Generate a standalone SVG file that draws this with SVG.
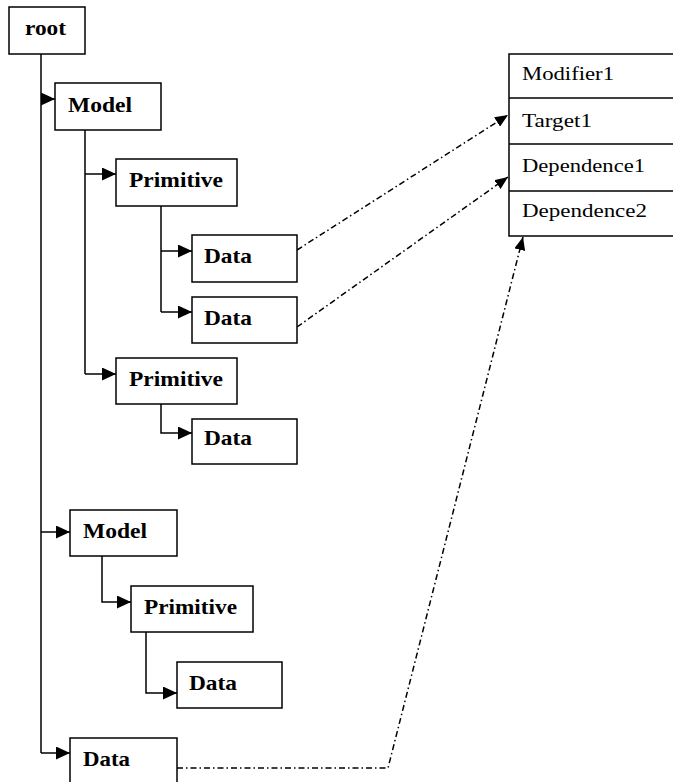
<svg xmlns="http://www.w3.org/2000/svg" width="673" height="782" viewBox="0 0 673 782">
<style>
.box{fill:#fff;stroke:#000;stroke-width:1.5}
.lbl{font-family:"Liberation Serif","Times New Roman",serif;font-weight:bold;font-size:21px;fill:#000}
.cell{font-family:"Liberation Serif","Times New Roman",serif;font-size:19px;fill:#000}
.tree{fill:none;stroke:#000;stroke-width:1.5}
.dd{fill:none;stroke:#000;stroke-width:1.5;stroke-dasharray:6 3 1.5 3}
</style>
<defs>
<marker id="ah" markerUnits="userSpaceOnUse" markerWidth="14" markerHeight="13" refX="14" refY="6.5" orient="auto">
<path d="M0,0 L14,6.5 L0,13 z" fill="#000"/>
</marker>
<marker id="ah2" markerUnits="userSpaceOnUse" markerWidth="13" markerHeight="11" refX="13" refY="5.5" orient="auto">
<path d="M0,0 L13,5.5 L0,11 z" fill="#000"/>
</marker>
</defs>
<rect width="673" height="782" fill="#fff"/>
<g id="connectors">
<path class="tree" d="M41,54 V753 M41,99 H55" marker-end="url(#ah)"/>
<path class="tree" d="M41,532 H70" marker-end="url(#ah)"/>
<path class="tree" d="M41,753 H70" marker-end="url(#ah)"/>
<path class="tree" d="M85,130 V374 M85,174 H116" marker-end="url(#ah)"/>
<path class="tree" d="M85,374 H116" marker-end="url(#ah)"/>
<path class="tree" d="M161,206 V312 M161,251 H192" marker-end="url(#ah)"/>
<path class="tree" d="M161,312 H192" marker-end="url(#ah)"/>
<path class="tree" d="M161,404 V433 H192" marker-end="url(#ah)"/>
<path class="tree" d="M102,556 V602 H131" marker-end="url(#ah)"/>
<path class="tree" d="M146,632 V693 H177" marker-end="url(#ah)"/>
<path class="dd" d="M297,250 L508,115" marker-end="url(#ah2)"/>
<path class="dd" d="M297,327 L508,177" marker-end="url(#ah2)"/>
<path class="dd" d="M177,768 H388 L523,237" marker-end="url(#ah2)"/>
</g>
<g id="root"><rect class="box" x="9" y="7" width="76" height="47"/><text class="lbl" x="25" y="35" textLength="41" lengthAdjust="spacingAndGlyphs">root</text></g>
<g id="model1"><rect class="box" x="55" y="83" width="106" height="47"/><text class="lbl" x="68" y="112" textLength="64" lengthAdjust="spacingAndGlyphs">Model</text></g>
<g id="primitive1"><rect class="box" x="116" y="159" width="121" height="47"/><text class="lbl" x="129" y="187" textLength="94" lengthAdjust="spacingAndGlyphs">Primitive</text></g>
<g id="data1"><rect class="box" x="192" y="235" width="105" height="47"/><text class="lbl" x="204" y="263" textLength="48" lengthAdjust="spacingAndGlyphs">Data</text></g>
<g id="data2"><rect class="box" x="192" y="297" width="105" height="46"/><text class="lbl" x="204" y="325" textLength="48" lengthAdjust="spacingAndGlyphs">Data</text></g>
<g id="primitive2"><rect class="box" x="116" y="358" width="121" height="46"/><text class="lbl" x="129" y="386" textLength="94" lengthAdjust="spacingAndGlyphs">Primitive</text></g>
<g id="data3"><rect class="box" x="192" y="419" width="105" height="45"/><text class="lbl" x="204" y="445" textLength="48" lengthAdjust="spacingAndGlyphs">Data</text></g>
<g id="model2"><rect class="box" x="70" y="510" width="107" height="46"/><text class="lbl" x="83" y="538" textLength="64" lengthAdjust="spacingAndGlyphs">Model</text></g>
<g id="primitive3"><rect class="box" x="131" y="586" width="122" height="46"/><text class="lbl" x="144" y="614" textLength="93" lengthAdjust="spacingAndGlyphs">Primitive</text></g>
<g id="data4"><rect class="box" x="177" y="662" width="105" height="46"/><text class="lbl" x="189" y="690" textLength="48" lengthAdjust="spacingAndGlyphs">Data</text></g>
<g id="data5"><rect class="box" x="70" y="738" width="107" height="50"/><text class="lbl" x="83" y="766" textLength="47" lengthAdjust="spacingAndGlyphs">Data</text></g>
<g id="table">
<rect class="box" x="509" y="54" width="170" height="182"/>
<path class="tree" d="M509,98 H673 M509,144 H673 M509,191 H673"/>
<text class="cell" x="522" y="80" textLength="92" lengthAdjust="spacingAndGlyphs">Modifier1</text>
<text class="cell" x="522" y="127" textLength="70" lengthAdjust="spacingAndGlyphs">Target1</text>
<text class="cell" x="522" y="172" textLength="123" lengthAdjust="spacingAndGlyphs">Dependence1</text>
<text class="cell" x="522" y="217" textLength="125" lengthAdjust="spacingAndGlyphs">Dependence2</text>
</g>
</svg>
